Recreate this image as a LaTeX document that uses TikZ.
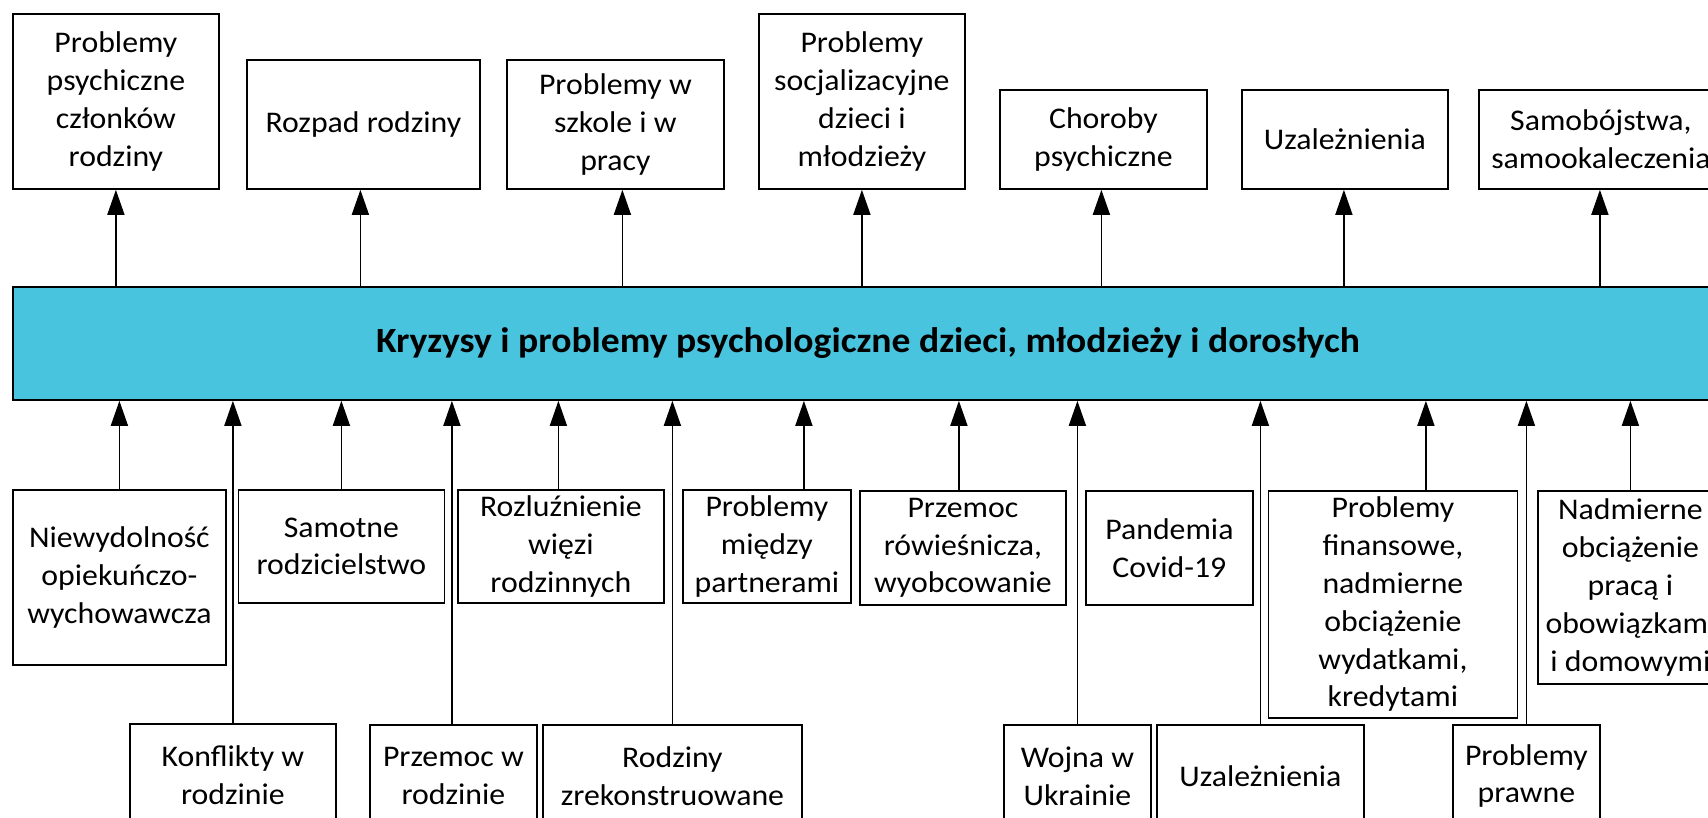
\documentclass[tikz,border=0pt]{standalone}
\usepackage{fontspec}
\setmainfont{Carlito}[FakeStretch=1.06]
\usetikzlibrary{arrows.meta,calc}
\definecolor{barblue}{HTML}{48C4DF}
\begin{document}
\begin{tikzpicture}[x=1pt,y=-1pt,
  box/.style={draw, line width=1.8pt, inner sep=0pt, align=center, anchor=north west,
    font=\fontsize{30}{37.8}\selectfont},
  arr/.style={line width=1.6pt, -{Triangle[length=25pt,width=17pt]}}]
\useasboundingbox (0,0) rectangle (1708,818);
\clip (0,0) rectangle (1708,818);
% top row
\node[box, minimum width=206, minimum height=175] (t1) at (12,13) {Problemy\\psychiczne\\członków\\rodziny};
\node[box, minimum width=233, minimum height=129] (t2) at (246,59) {Rozpad rodziny};
\node[box, minimum width=217, minimum height=129] (t3) at (506,59) {Problemy w\\szkole i w\\pracy};
\node[box, minimum width=206, minimum height=175] (t4) at (758,13) {Problemy\\socjalizacyjne\\dzieci i\\młodzieży};
\node[box, minimum width=207, minimum height=99] (t5) at (999,89) {Choroby\\psychiczne};
\node[box, minimum width=206, minimum height=99] (t6) at (1241,89) {Uzależnienia};
\node[box, minimum width=244, minimum height=99] (t7) at (1478,89) {Samobójstwa,\\samookaleczenia};
% central bar
\node[draw, line width=1.8pt, fill=barblue, anchor=north west, inner sep=0pt,
  minimum width=1710, minimum height=113,
  font=\bfseries\fontsize{35.5}{40}\selectfont] (bar) at (12,286)
  {Kryzysy i problemy psychologiczne dzieci, młodzieży i dorosłych};
% top arrows
\draw[arr] (t1.south |- bar.north) -- (t1.south);
\draw[arr] ([xshift=-3]t2.south |- bar.north) -- ([xshift=-3]t2.south);
\draw[arr] ([xshift=7]t3.south |- bar.north) -- ([xshift=7]t3.south);
\draw[arr] (t4.south |- bar.north) -- (t4.south);
\draw[arr] ([xshift=-2]t5.south |- bar.north) -- ([xshift=-2]t5.south);
\draw[arr] ([xshift=-1]t6.south |- bar.north) -- ([xshift=-1]t6.south);
\draw[arr] ([xshift=-1]t7.south |- bar.north) -- ([xshift=-1]t7.south);
% bottom row 1
\node[box, minimum width=213, minimum height=175] (n1) at (12,489) {Niewydolność\\opiekuńczo-\\wychowawcza};
\node[box, minimum width=206, minimum height=113] (n2) at (237.5,489) {Samotne\\rodzicielstwo};
\node[box, minimum width=206, minimum height=113] (n3) at (457,489) {Rozluźnienie\\więzi\\rodzinnych};
\node[box, minimum width=168, minimum height=113] (n4) at (682,489) {Problemy\\między\\partnerami};
\node[box, minimum width=206, minimum height=114] (n5) at (859,490) {Przemoc\\rówieśnicza,\\wyobcowanie};
\node[box, minimum width=167, minimum height=114] (n6) at (1085,490) {Pandemia\\Covid-19};
\node[box, minimum width=249, minimum height=227] (n7) at (1267.5,490) {Problemy\\finansowe,\\nadmierne\\obciążenie\\wydatkami,\\kredytami};
\node[box, minimum width=185, minimum height=193] (n8) at (1537,490) {Nadmierne\\obciążenie\\pracą i\\obowiązkami\\i domowymi};
% bottom row 2
\node[box, minimum width=206, minimum height=103] (m1) at (129,723) {Konflikty w\\rodzinie};
\node[box, minimum width=167, minimum height=102] (m2) at (369,724) {Przemoc w\\rodzinie};
\node[box, minimum width=259, minimum height=102] (m3) at (542,724) {Rodziny\\zrekonstruowane};
\node[box, minimum width=147, minimum height=102] (m4) at (1003,724) {Wojna w\\Ukrainie};
\node[box, minimum width=207, minimum height=102] (m5) at (1156,724) {Uzależnienia};
\node[box, minimum width=147, minimum height=102] (m6) at (1452,724) {Problemy\\prawne};
% bottom arrows
\draw[arr] (n1.north) -- (n1.north |- bar.south);
\draw[arr] (m1.north) -- (m1.north |- bar.south);
\draw[arr] (n2.north) -- (n2.north |- bar.south);
\draw[arr] ([xshift=-1.5]m2.north) -- ([xshift=-1.5]m2.north |- bar.south);
\draw[arr] ([xshift=-2.5]n3.north) -- ([xshift=-2.5]n3.north |- bar.south);
\draw[arr] (m3.north) -- (m3.north |- bar.south);
\draw[arr] ([xshift=37]n4.north) -- ([xshift=37]n4.north |- bar.south);
\draw[arr] ([xshift=-4]n5.north) -- ([xshift=-4]n5.north |- bar.south);
\draw[arr] (m4.north) -- (m4.north |- bar.south);
\draw[arr] (m5.north) -- (m5.north |- bar.south);
\draw[arr] ([xshift=33]n7.north) -- ([xshift=33]n7.north |- bar.south);
\draw[arr] (m6.north) -- (m6.north |- bar.south);
\draw[arr] (n8.north) -- (n8.north |- bar.south);
\end{tikzpicture}
\end{document}
